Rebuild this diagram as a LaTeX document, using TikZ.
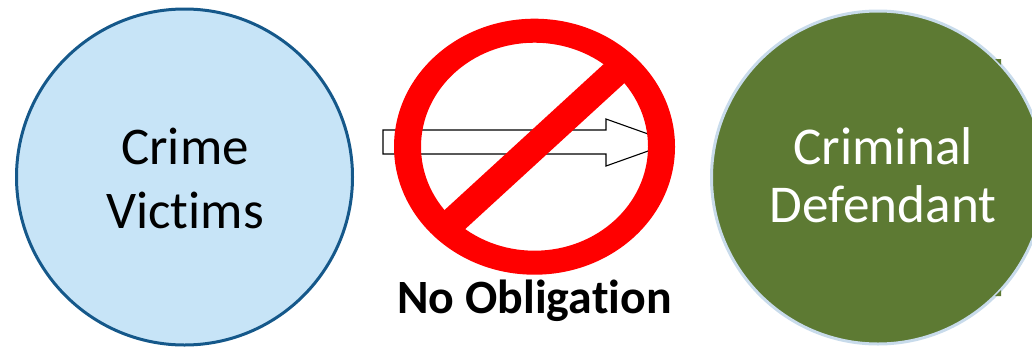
\documentclass[tikz,border=0pt]{standalone}
\usepackage{fontspec}
\setmainfont{Carlito}[Ligatures=NoCommon]
\definecolor{victimfill}{RGB}{199,228,247}
\definecolor{victimline}{RGB}{21,88,138}
\definecolor{defendfill}{RGB}{93,122,51}
\definecolor{defendline}{RGB}{200,219,235}
\tikzset{
  party/.style={circle,inner sep=0pt},
  partytext/.style={inner sep=0pt,align=center,anchor=base},
}
\begin{document}
\begin{tikzpicture}[x=1pt,y=-1pt]
\clip (0,0) rectangle (1032,346);
\node[party,fill=victimfill,draw=victimline,line width=3pt,minimum size=336pt] (victims) at (184.5,177) {};
\node[partytext,font=\fontsize{53}{64}\selectfont,text=black] (victimstext) at (185,228) {Crime\\Victims};
\node[party,fill=defendfill,draw=defendline,line width=3pt,minimum size=333pt] (defendant) at (878,177.5) {};
\node[partytext,font=\fontsize{53.2}{58}\selectfont,text=white] (defendanttext) at (883,222) {Criminal\\Defendant};
\fill[defendfill] (995,59) -- (1001,59) -- (1001,65) -- cycle (995,296) -- (1001,296) -- (1001,290) -- cycle;
\draw[black,fill=white,line width=1.1pt] (383,130) -- (606,130) -- (606,119) -- (672,142.5) -- (606,166) -- (606,154) -- (383,154) -- cycle;
\fill[red,even odd rule] (534.5,146.7) ellipse [x radius=140.5,y radius=128] (534.5,146.7) ellipse [x radius=113.5,y radius=104];
\draw[red,line width=28pt] (624.5,64) -- (444,229.5);
\node[font=\fontsize{47.8}{50}\selectfont\bfseries,text=black,inner sep=0pt,anchor=base] (label) at (534.5,313) {No Obligation};
\end{tikzpicture}
\end{document}
